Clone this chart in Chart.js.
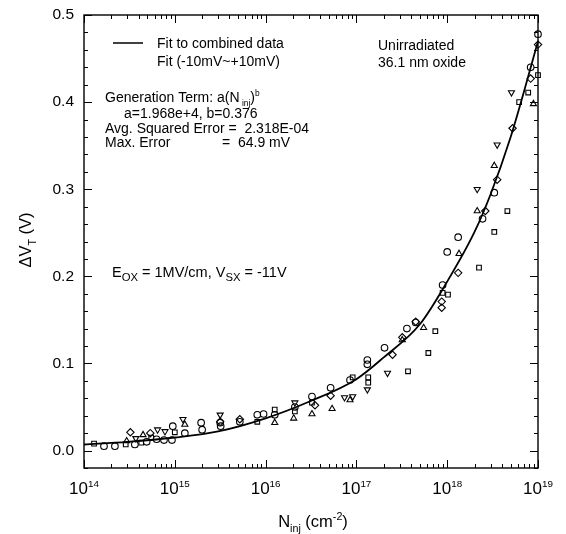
<!DOCTYPE html>
<html>
<head>
<meta charset="utf-8">
<script src="https://cdn.jsdelivr.net/npm/chart.js@4/dist/chart.umd.min.js"></script>
<style>
body{margin:0;background:#fff;}
#wrap{width:566px;height:534px;}
</style>
</head>
<body>
<div id="wrap"><canvas id="vtChart" width="566" height="534"></canvas></div>
<script>
// tick labels
const xTickExp = [14, 15, 16, 17, 18, 19];
const yTickVals = [0.0, 0.1, 0.2, 0.3, 0.4, 0.5];

// fit to combined data
const fitN = [1e14, 3e14, 1e15, 3e15, 1e16, 3e16, 1e17, 2e17, 5e17, 1e18, 2e18, 3e18, 5e18, 7e18, 1e19];
const fitV = [0.007, 0.010, 0.015, 0.022, 0.037, 0.056, 0.082, 0.107, 0.145, 0.194, 0.251, 0.294, 0.360, 0.412, 0.470];

// measured points, by marker
const circN = [1.66e14, 2.19e14, 3.63e14, 4.9e14, 6.3e14, 7.6e14, 9.3e14, 9.5e14, 1.29e15, 1.95e15, 2e15, 3.2e15, 3.16e15, 5.2e15, 8.1e15, 9.5e15, 1.26e16, 2.1e16, 3.24e16, 5.2e16, 8.5e16, 1.32e17, 1.32e17, 2.04e17, 3.6e17, 4.5e17, 8.9e17, 1e18, 1.32e18, 2.45e18, 3.3e18, 8.3e18, 1e19];
const circV = [0.005, 0.005, 0.007, 0.010, 0.013, 0.012, 0.012, 0.028, 0.020, 0.032, 0.024, 0.028, 0.032, 0.033, 0.041, 0.042, 0.041, 0.050, 0.062, 0.072, 0.081, 0.104, 0.099, 0.118, 0.140, 0.147, 0.190, 0.228, 0.245, 0.266, 0.296, 0.440, 0.478];

const sqN = [1.29e14, 2.88e14, 4.27e14, 5.5e14, 1e15, 8.1e15, 1.26e16, 2.1e16, 3.24e16, 9.1e16, 1.35e17, 1.35e17, 3.7e17, 6.2e17, 7.4e17, 8.9e17, 1.02e18, 2.24e18, 3.3e18, 4.6e18, 6.2e18, 7.8e18, 1e19];
const sqV = [0.008, 0.007, 0.009, 0.015, 0.021, 0.033, 0.047, 0.045, 0.055, 0.084, 0.084, 0.078, 0.091, 0.112, 0.137, 0.181, 0.179, 0.210, 0.251, 0.275, 0.400, 0.411, 0.431];

const triN = [2.95e14, 4.47e14, 1.29e15, 1.26e16, 2.04e16, 3.24e16, 5.4e16, 8.5e16, 3.2e17, 5.5e17, 1.35e18, 2.14e18, 3.3e18, 8.9e18];
const triV = [0.011, 0.018, 0.030, 0.032, 0.037, 0.042, 0.048, 0.058, 0.127, 0.141, 0.226, 0.275, 0.327, 0.398];

const invN = [3.72e14, 6.46e14, 7.8e14, 1.23e15, 3.16e15, 2.1e16, 7.4e16, 9.1e16, 1.32e17, 2.2e17, 2.14e18, 3.55e18, 5.1e18];
const invV = [0.014, 0.024, 0.022, 0.036, 0.041, 0.055, 0.061, 0.062, 0.070, 0.089, 0.300, 0.351, 0.411];

const diaN = [3.24e14, 5.37e14, 3.16e15, 5.2e15, 3.5e16, 5.2e16, 2.5e17, 3.2e17, 4.5e17, 8.7e17, 8.7e17, 1.32e18, 2.63e18, 3.55e18, 5.25e18, 8.3e18, 1e19];
const diaV = [0.021, 0.020, 0.033, 0.036, 0.052, 0.063, 0.110, 0.130, 0.148, 0.164, 0.171, 0.204, 0.275, 0.311, 0.370, 0.427, 0.466];

const FONT = '"Liberation Sans", Arial, sans-serif';

function pts(xs, ys){
  return xs.map((v, i) => ({x: v, y: ys[i]}));
}

function markerSet(label, xs, ys, style, rot, r){
  return {
    type: "scatter",
    label: label,
    data: pts(xs, ys),
    pointStyle: style,
    rotation: rot,
    pointRadius: r,
    pointBorderWidth: 1.1,
    pointBorderColor: "#000",
    pointBackgroundColor: "rgba(0,0,0,0)",
    showLine: false,
    clip: false
  };
}

// text pieces: [text, "n"|"sub"|"sup"]
function richWidth(ctx, parts, size, small){
  let w = 0;
  parts.forEach(p => {
    const s = p[1] === "n" ? size : size * small;
    ctx.font = s + "px " + FONT;
    w += ctx.measureText(p[0]).width;
  });
  return w;
}
function drawRich(ctx, parts, x, y, size, small){
  small = small || 0.7;
  parts.forEach(p => {
    let s = size, dy = 0;
    if (p[1] === "sub"){ s = size * small; dy = size * 0.3; }
    if (p[1] === "sup"){ s = size * small; dy = -size * 0.42; }
    ctx.font = s + "px " + FONT;
    ctx.fillText(p[0], x, y + dy);
    x += ctx.measureText(p[0]).width;
  });
}

const decoPlugin = {
  id: "deco",
  afterDraw(chart){
    const ctx = chart.ctx;
    const a = chart.chartArea;
    const xs = chart.scales.x, ys = chart.scales.y;
    ctx.save();
    ctx.strokeStyle = "#000";
    ctx.fillStyle = "#000";
    ctx.lineWidth = 1.4;
    ctx.strokeRect(a.left, a.top, a.right - a.left, a.bottom - a.top);

    ctx.lineWidth = 1;
    ctx.beginPath();
    // y ticks, every 0.02, inward on both sides
    for (let k = -1; k <= 25; k++){
      const v = k * 0.02;
      const py = Math.round(ys.getPixelForValue(v)) + 0.5;
      if (py < a.top - 1 || py > a.bottom + 1) continue;
      const len = (k % 5 === 0) ? 8 : 4;
      ctx.moveTo(a.left, py); ctx.lineTo(a.left + len, py);
      ctx.moveTo(a.right, py); ctx.lineTo(a.right - len, py);
    }
    // x ticks, decades and 2..9
    for (let e = 14; e <= 19; e++){
      for (let m = 1; m <= 9; m++){
        if (e === 19 && m > 1) break;
        const px = Math.round(xs.getPixelForValue(m * Math.pow(10, e))) + 0.5;
        const len = m === 1 ? 8 : 4;
        ctx.moveTo(px, a.bottom); ctx.lineTo(px, a.bottom - len);
        ctx.moveTo(px, a.top); ctx.lineTo(px, a.top + len);
      }
    }
    ctx.stroke();

    // y tick labels
    ctx.textBaseline = "middle";
    ctx.textAlign = "right";
    ctx.font = "15.5px " + FONT;
    yTickVals.forEach(v => {
      ctx.fillText(v.toFixed(1), a.left - 10, ys.getPixelForValue(v));
    });

    // x tick labels 10^n
    ctx.textAlign = "left";
    ctx.textBaseline = "alphabetic";
    xTickExp.forEach(e => {
      const parts = [["10", "n"], [String(e), "sup"]];
      const w = richWidth(ctx, parts, 17, 0.58);
      drawRich(ctx, parts, xs.getPixelForValue(Math.pow(10, e)) - w / 2, 494, 17, 0.58);
    });

    // x title
    const xt = [["N", "n"], ["inj", "sub"], [" (cm", "n"], ["-2", "sup"], [")", "n"]];
    const xw = richWidth(ctx, xt, 16.5, 0.65);
    drawRich(ctx, xt, 313 - xw / 2, 527, 16.5, 0.65);

    // y title
    ctx.save();
    ctx.translate(31, 240);
    ctx.rotate(-Math.PI / 2);
    const yt = [["\u0394V", "n"], ["T", "sub"], [" (V)", "n"]];
    const yw = richWidth(ctx, yt, 16.5, 0.65);
    drawRich(ctx, yt, -yw / 2, 0, 16.5, 0.65);
    ctx.restore();

    // legend
    ctx.lineWidth = 1.5;
    ctx.beginPath();
    ctx.moveTo(113, 43); ctx.lineTo(143, 43);
    ctx.stroke();
    const fs = 14;
    drawRich(ctx, [["Fit to combined data", "n"]], 157, 48, fs);
    drawRich(ctx, [["Fit (-10mV~+10mV)", "n"]], 157, 66, fs);

    drawRich(ctx, [["Generation Term: a(N", "n"], [" inj", "sub"], [")", "n"], ["b", "sup"]], 105, 102, fs, 0.6);
    drawRich(ctx, [["a=1.968e+4, b=0.376", "n"]], 124, 118, fs);
    drawRich(ctx, [["Avg. Squared Error =  2.318E-04", "n"]], 105, 133, fs);
    drawRich(ctx, [["Max. Error", "n"]], 105, 147, fs);
    drawRich(ctx, [["=  64.9 mV", "n"]], 222, 147, fs);

    drawRich(ctx, [["Unirradiated", "n"]], 378, 50, fs);
    drawRich(ctx, [["36.1 nm oxide", "n"]], 378, 67, fs);

    drawRich(ctx, [["E", "n"], ["OX", "sub"], [" = 1MV/cm, V", "n"], ["SX", "sub"], [" = -11V", "n"]], 112, 277, 14.5, 0.78);

    ctx.restore();
  }
};

new Chart(
  document.getElementById("vtChart"),
  {
    type: "scatter",
    data: {
      datasets: [
        {
          type: "line",
          label: "Fit to combined data",
          data: pts(fitN, fitV),
          borderColor: "#000",
          borderWidth: 1.8,
          pointRadius: 0,
          fill: false,
          cubicInterpolationMode: "monotone",
          clip: false
        },
        markerSet("circle", circN, circV, "circle", 0, 3.3),
        markerSet("square", sqN, sqV, "rect", 0, 3.3),
        markerSet("triangle", triN, triV, "triangle", 0, 3.5),
        markerSet("inverted", invN, invV, "triangle", 180, 3.5),
        markerSet("diamond", diaN, diaV, "rectRot", 0, 3.7)
      ]
    },
    options: {
      responsive: false,
      animation: false,
      layout: {padding: {left: 84, right: 28, top: 15, bottom: 66}},
      plugins: {legend: {display: false}, tooltip: {enabled: false}},
      scales: {
        x: {type: "logarithmic", min: 1e14, max: 1e19, display: false},
        y: {type: "linear", min: -0.02, max: 0.5, display: false}
      }
    },
    plugins: [decoPlugin]
  }
);
</script>
</body>
</html>
